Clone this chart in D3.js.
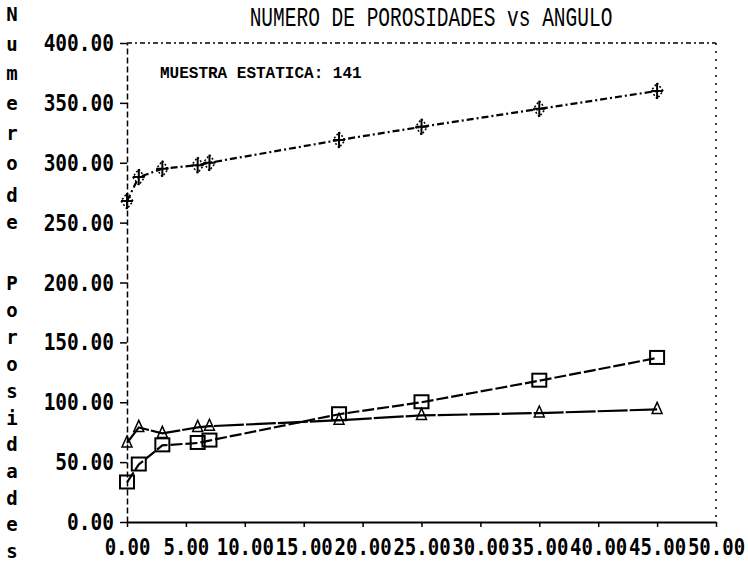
<!DOCTYPE html>
<html>
<head>
<meta charset="utf-8">
<script src="https://cdn.jsdelivr.net/npm/d3@7"></script>
<style>
  body { margin: 0; background: #fff; }
  svg { display: block; }
</style>
</head>
<body>
<svg id="chart" width="748" height="567"></svg>
<script>
const svg = d3.select('#chart')
const ink = '#000'

// data
const angles = [0, 1, 3, 6, 7, 18, 25, 35, 45]
const porosDiamond = [268, 288, 295, 298, 300, 319, 330, 345, 360]
const porosSquare = [33, 48, 64, 66, 68, 90, 100, 118, 137]
const porosTriangle = [66, 79, 74, 79, 80, 85, 89, 91, 94]
const yTicks = [0, 50, 100, 150, 200, 250, 300, 350, 400]
const xTicks = [0, 5, 10, 15, 20, 25, 30, 35, 40, 45, 50]
const yTitle = ['N', 'u', 'm', 'e', 'r', 'o', 'd', 'e', 'P', 'o', 'r', 'o', 's', 'i', 'd', 'a', 'd', 'e', 's']

const xScale = d3.scaleLinear().domain([0, 50]).range([127, 716])
const yScale = d3.scaleLinear().domain([0, 400]).range([522, 43])

// frame: dashed top and right
svg.append('line')
  .attr('x1', xScale(0)).attr('x2', xScale(50))
  .attr('y1', yScale(400)).attr('y2', yScale(400))
  .attr('stroke', ink).attr('stroke-width', 1.5).attr('stroke-dasharray', '5,3,2,3')
svg.append('line')
  .attr('x1', xScale(50)).attr('x2', xScale(50))
  .attr('y1', yScale(400)).attr('y2', yScale(0))
  .attr('stroke', ink).attr('stroke-width', 1.5).attr('stroke-dasharray', '2,6')

// y axis
const yAxis = d3.axisLeft(yScale)
  .tickValues(yTicks)
  .tickFormat(d3.format('.2f'))
  .tickSize(7)
  .tickSizeOuter(0)
  .tickPadding(6)

const gy = svg.append('g')
  .attr('transform', `translate(${xScale(0)},0)`)
  .call(yAxis)
gy.select('path.domain').attr('stroke-dasharray', '6,3').attr('stroke-width', 1.5)

// x axis
const xAxis = d3.axisBottom(xScale)
  .tickValues(xTicks)
  .tickFormat(d3.format('.2f'))
  .tickSize(5)
  .tickSizeOuter(0)
  .tickPadding(12)

const gx = svg.append('g')
  .attr('transform', `translate(0,${yScale(0)})`)
  .call(xAxis)
gx.select('path.domain').attr('stroke-width', 2)

svg.selectAll('.tick line').attr('stroke', ink).attr('stroke-width', 1.5)
svg.selectAll('.tick text')
  .attr('fill', ink)
  .style('font-family', '"DejaVu Sans Mono", monospace')
  .style('font-weight', 'bold')
gy.selectAll('.tick text')
  .style('font-size', '19.5px')
  .attr('transform', 'scale(1,1.2)')
// tall narrow digits, stretched vertically
gx.selectAll('.tick text')
  .style('font-size', '19px')
  .attr('y', 0)
  .attr('transform', 'translate(0,16) scale(1,1.25)')

// series
const line = d3.line()
  .x(d => xScale(d[0]))
  .y(d => yScale(d[1]))

const series = [
  { vals: porosDiamond, dash: '7,3,2,3', mark: 'diamond' },
  { vals: porosSquare, dash: '12,3', mark: 'square' },
  { vals: porosTriangle, dash: '30,2', mark: 'triangle' }
]

series.forEach(s => {
  const pts = angles.map((a, i) => [a, s.vals[i]])
  svg.append('path')
    .datum(pts)
    .attr('d', line)
    .attr('fill', 'none')
    .attr('stroke', ink)
    .attr('stroke-width', 2.2)
    .attr('stroke-dasharray', s.dash)

  const marks = svg.selectAll(null)
    .data(pts)
    .enter()
    .append('g')
    .attr('transform', d => `translate(${xScale(d[0])},${yScale(d[1])})`)

  if (s.mark === 'diamond') {
    marks.append('path')
      .attr('d', 'M0,-8L6,0L0,8L-6,0Z')
      .attr('fill', 'none').attr('stroke', ink).attr('stroke-width', 1.5)
      .attr('stroke-dasharray', '2,2')
    marks.append('path')
      .attr('d', 'M-6,0H6M0,-8V8')
      .attr('stroke', ink).attr('stroke-width', 2)
  } else if (s.mark === 'square') {
    marks.append('rect')
      .attr('x', -7).attr('y', -7).attr('width', 14).attr('height', 13)
      .attr('fill', 'none').attr('stroke', ink).attr('stroke-width', 2)
  } else {
    marks.append('path')
      .attr('d', 'M0,-7L5,4L-5,4Z')
      .attr('fill', 'none').attr('stroke', ink).attr('stroke-width', 1.5)
  }
})

// title and note
svg.append('text')
  .attr('transform', 'translate(431,26) scale(1,1.4)')
  .attr('text-anchor', 'middle')
  .style('font-family', '"Liberation Mono", monospace')
  .style('font-size', '19.5px')
  .attr('fill', ink)
  .text('NUMERO DE POROSIDADES vs ANGULO')

svg.append('text')
  .attr('x', 160).attr('y', 78)
  .style('font-family', '"Liberation Mono", monospace')
  .style('font-weight', 'bold')
  .style('font-size', '16px')
  .attr('fill', ink)
  .text('MUESTRA ESTATICA: 141')

// vertical stacked y title
const yTitlePos = [14, 44, 73, 103, 133, 163, 195, 222, 283, 310, 337, 364, 391, 418, 444, 471, 498, 524, 551]
svg.selectAll('text.ytitle')
  .data(yTitle)
  .enter()
  .append('text')
  .attr('class', 'ytitle')
  .attr('x', 12)
  .attr('y', (d, i) => yTitlePos[i])
  .attr('dy', '0.35em')
  .attr('text-anchor', 'middle')
  .style('font-family', '"DejaVu Sans Mono", monospace')
  .style('font-weight', 'bold')
  .style('font-size', '19px')
  .attr('fill', ink)
  .text(d => d)
</script>
</body>
</html>
